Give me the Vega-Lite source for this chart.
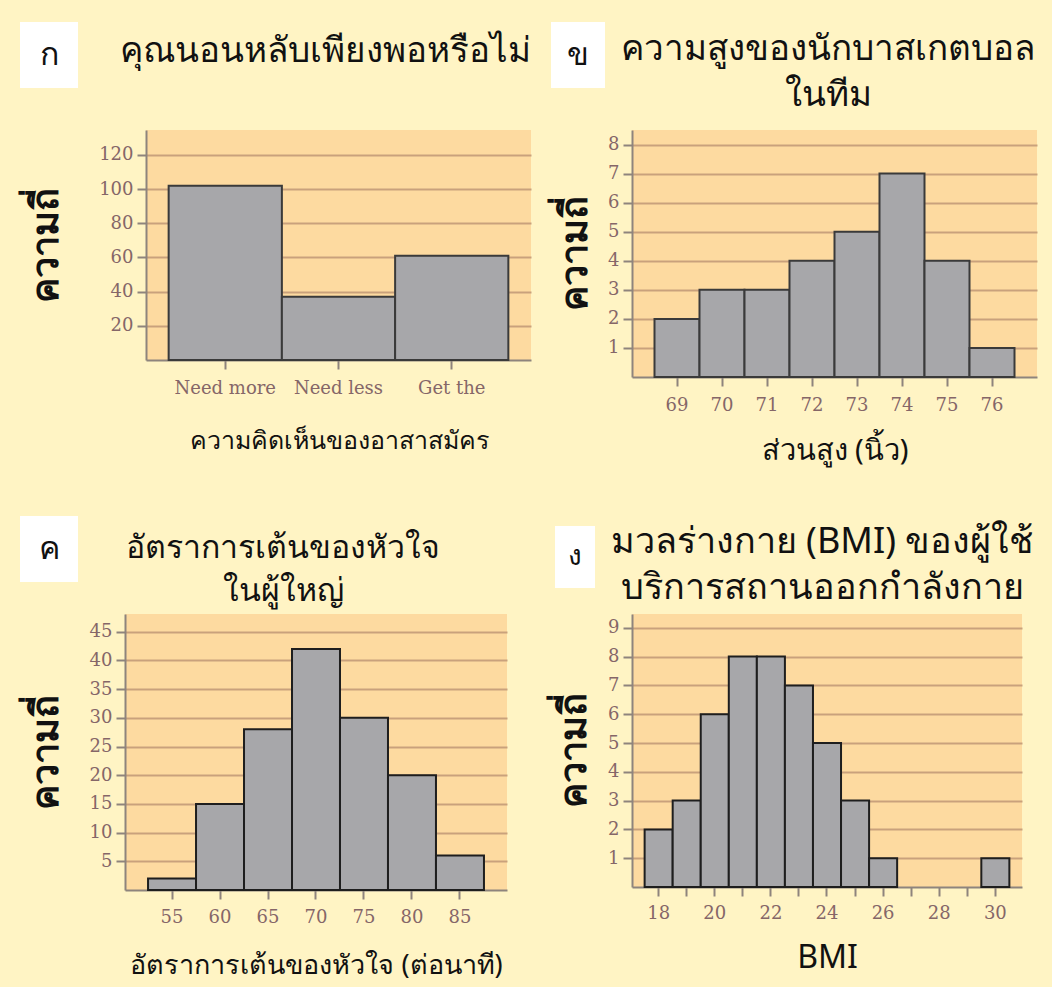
{
  "$schema": "https://vega.github.io/schema/vega-lite/v6.json",
  "background": "#FFF4C4",
  "padding": {"left": 20, "top": 22, "right": 15, "bottom": 9},
  "config": {
    "view": {"stroke": null},
    "text": {"font": "Noto Sans", "fontSize": 34, "color": "#111111"},
    "axis": {
      "domainColor": "#8E847D", "domainWidth": 2,
      "tickColor": "#8E847D", "tickWidth": 2, "tickSize": 9,
      "labelFont": "DejaVu Serif", "labelFontSize": 18, "labelColor": "#856668", "labelPadding": 4,
      "titleFont": "Noto Sans", "titleFontWeight": "normal", "titleColor": "#111111",
      "gridColor": "#C9A17C", "gridWidth": 2
    },
    "axisY": {"title": null},
    "axisX": {"labelAngle": 0, "grid": false}
  },
  "datasets": {
    "sleep": [
      {"opinion": "Need more", "count": 102},
      {"opinion": "Need less", "count": 37},
      {"opinion": "Get the", "count": 61}
    ],
    "height": [
      {"inches": 69, "count": 2}, {"inches": 70, "count": 3}, {"inches": 71, "count": 3},
      {"inches": 72, "count": 4}, {"inches": 73, "count": 5}, {"inches": 74, "count": 7},
      {"inches": 75, "count": 4}, {"inches": 76, "count": 1}
    ],
    "heart": [
      {"bpm": 55, "count": 2}, {"bpm": 60, "count": 15}, {"bpm": 65, "count": 28},
      {"bpm": 70, "count": 42}, {"bpm": 75, "count": 30}, {"bpm": 80, "count": 20},
      {"bpm": 85, "count": 6}
    ],
    "bmi": [
      {"bmi": 18, "count": 2}, {"bmi": 19, "count": 3}, {"bmi": 20, "count": 6},
      {"bmi": 21, "count": 8}, {"bmi": 22, "count": 8}, {"bmi": 23, "count": 7},
      {"bmi": 24, "count": 5}, {"bmi": 25, "count": 3}, {"bmi": 26, "count": 1},
      {"bmi": 30, "count": 1}
    ],
    "ylabel": [{"t": "ความถี่"}]
  },
  "spacing": 50,
  "vconcat": [
    {
      "spacing": 20,
      "hconcat": [
        {
          "spacing": 20,
          "hconcat": [
            {
              "spacing": 42,
              "vconcat": [
                {"width": 58, "height": 66, "view": {"fill": "white", "stroke": null},
                 "data": {"values": [{"l": "ก"}]},
                 "mark": {"type": "text", "fontSize": 32},
                 "encoding": {"text": {"field": "l"}}},
                {"width": 54, "height": 230,
                 "data": {"name": "ylabel"},
                 "mark": {"type": "text", "angle": 270, "fontSize": 38, "fontWeight": "bold"},
                 "encoding": {"text": {"field": "t"}}}
              ]
            },
            {
              "spacing": 42,
              "vconcat": [
                {"width": 385, "height": 66,
                 "data": {"values": [{"t": "คุณนอนหลับเพียงพอหรือไม่"}]},
                 "mark": {"type": "text", "fontSize": 35, "align": "right", "x": "width", "dy": -4},
                 "encoding": {"text": {"field": "t"}}},
                {
                  "width": 385, "height": 230,
                  "view": {"fill": "#FDDAA0", "stroke": null},
                  "data": {"name": "sleep"},
                  "mark": {"type": "bar", "fill": "#A7A7AA", "stroke": "#3A3A3A", "strokeWidth": 2},
                  "encoding": {
                    "x": {"field": "opinion", "type": "nominal", "sort": null,
                          "scale": {"paddingInner": 0, "paddingOuter": 0.2},
                          "axis": {"title": "ความคิดเห็นของอาสาสมัคร", "titleFontSize": 25, "labelPadding": 10, "titlePadding": 31}},
                    "y": {"field": "count", "type": "quantitative", "scale": {"domain": [0, 134.6], "nice": false},
                          "axis": {"values": [20, 40, 60, 80, 100, 120]}}
                  }
                }
              ]
            }
          ]
        },
        {
          "spacing": 2,
          "hconcat": [
            {
              "spacing": 42,
              "vconcat": [
                {"width": 54, "height": 66, "view": {"fill": "white", "stroke": null},
                 "data": {"values": [{"l": "ข"}]},
                 "mark": {"type": "text", "fontSize": 32},
                 "encoding": {"text": {"field": "l"}}},
                {"width": 50, "height": 247,
                 "data": {"name": "ylabel"},
                 "mark": {"type": "text", "angle": 270, "fontSize": 38, "fontWeight": "bold"},
                 "encoding": {"text": {"field": "t"}}}
              ]
            },
            {
              "spacing": 8,
              "vconcat": [
                {"width": 392, "height": 100,
                 "data": {"values": [{"t": "ความสูงของนักบาสเกตบอล\nในทีม"}]},
                 "mark": {"type": "text", "fontSize": 35, "lineBreak": "\n", "lineHeight": 46, "dy": -23},
                 "encoding": {"text": {"field": "t"}}},
                {
                  "width": 405, "height": 247,
                  "view": {"fill": "#FDDAA0", "stroke": null},
                  "data": {"name": "height"},
                  "mark": {"type": "bar", "fill": "#A7A7AA", "stroke": "#3A3A3A", "strokeWidth": 2},
                  "encoding": {
                    "x": {"field": "inches", "type": "ordinal",
                          "scale": {"paddingInner": 0, "paddingOuter": 0.5},
                          "axis": {"title": "ส่วนสูง (นิ้ว)", "titleFontSize": 29, "labelPadding": 10, "titlePadding": 22}},
                    "y": {"field": "count", "type": "quantitative", "scale": {"domain": [0, 8.5], "nice": false},
                          "axis": {"values": [1, 2, 3, 4, 5, 6, 7, 8]}}
                  }
                }
              ]
            }
          ]
        }
      ]
    },
    {
      "spacing": 48,
      "hconcat": [
        {
          "spacing": 11,
          "hconcat": [
            {
              "spacing": 32,
              "vconcat": [
                {"width": 58, "height": 66, "view": {"fill": "white", "stroke": null},
                 "data": {"values": [{"l": "ค"}]},
                 "mark": {"type": "text", "fontSize": 32},
                 "encoding": {"text": {"field": "l"}}},
                {"width": 54, "height": 276,
                 "data": {"name": "ylabel"},
                 "mark": {"type": "text", "angle": 270, "fontSize": 38, "fontWeight": "bold"},
                 "encoding": {"text": {"field": "t"}}}
              ]
            },
            {
              "spacing": 2,
              "vconcat": [
                {"width": 316, "height": 96,
                 "data": {"values": [{"t": "อัตราการเต้นของหัวใจ\nในผู้ใหญ่"}]},
                 "mark": {"type": "text", "fontSize": 32, "lineBreak": "\n", "lineHeight": 43, "dy": -16},
                 "encoding": {"text": {"field": "t"}}},
                {
                  "width": 382, "height": 276,
                  "view": {"fill": "#FDDAA0", "stroke": null},
                  "data": {"name": "heart"},
                  "mark": {"type": "bar", "fill": "#A7A7AA", "stroke": "#1E1E1E", "strokeWidth": 2},
                  "encoding": {
                    "x": {"field": "bpm", "type": "ordinal",
                          "scale": {"paddingInner": 0, "paddingOuter": 0.48},
                          "axis": {"title": "อัตราการเต้นของหัวใจ (ต่อนาที)", "titleFontSize": 27, "labelPadding": 9, "titlePadding": 26}},
                    "y": {"field": "count", "type": "quantitative", "scale": {"domain": [0, 48.1], "nice": false},
                          "axis": {"values": [5, 10, 15, 20, 25, 30, 35, 40, 45]}}
                  }
                }
              ]
            }
          ]
        },
        {
          "spacing": 12,
          "hconcat": [
            {
              "spacing": 9,
              "vconcat": [
                {"width": 40, "height": 1,
                 "data": {"values": [{}]},
                 "mark": {"type": "text", "fontSize": 1},
                 "encoding": {"text": {"value": ""}}},
                {"width": 40, "height": 62, "view": {"fill": "white", "stroke": null},
                 "data": {"values": [{"l": "ง"}]},
                 "mark": {"type": "text", "fontSize": 28},
                 "encoding": {"text": {"field": "l"}}},
                {"width": 40, "height": 307,
                 "data": {"name": "ylabel"},
                 "mark": {"type": "text", "angle": 270, "fontSize": 38, "fontWeight": "bold"},
                 "encoding": {"text": {"field": "t"}}}
              ]
            },
            {
              "spacing": 2,
              "vconcat": [
                {"width": 380, "height": 96,
                 "data": {"values": [{"t": "มวลร่างกาย (BMI) ของผู้ใช้\nบริการสถานออกกำลังกาย"}]},
                 "mark": {"type": "text", "fontSize": 36, "lineBreak": "\n", "lineHeight": 46, "dy": -22},
                 "encoding": {"text": {"field": "t"}}},
                {
                  "width": 390, "height": 273,
                  "view": {"fill": "#FDDAA0", "stroke": null},
                  "data": {"name": "bmi"},
                  "mark": {"type": "bar", "fill": "#A7A7AA", "stroke": "#1E1E1E", "strokeWidth": 2},
                  "encoding": {
                    "x": {"field": "bmi", "type": "ordinal",
                          "scale": {"domain": [18, 19, 20, 21, 22, 23, 24, 25, 26, 27, 28, 29, 30], "paddingInner": 0, "paddingOuter": 0.45},
                          "axis": {"title": "BMI", "titleFontSize": 32, "labelPadding": 8, "titlePadding": 20,
                                   "labelExpr": "datum.value % 2 == 0 ? datum.label : ''"}},
                    "y": {"field": "count", "type": "quantitative", "scale": {"domain": [0, 9.48], "nice": false},
                          "axis": {"values": [1, 2, 3, 4, 5, 6, 7, 8, 9]}}
                  }
                }
              ]
            }
          ]
        }
      ]
    }
  ]
}
